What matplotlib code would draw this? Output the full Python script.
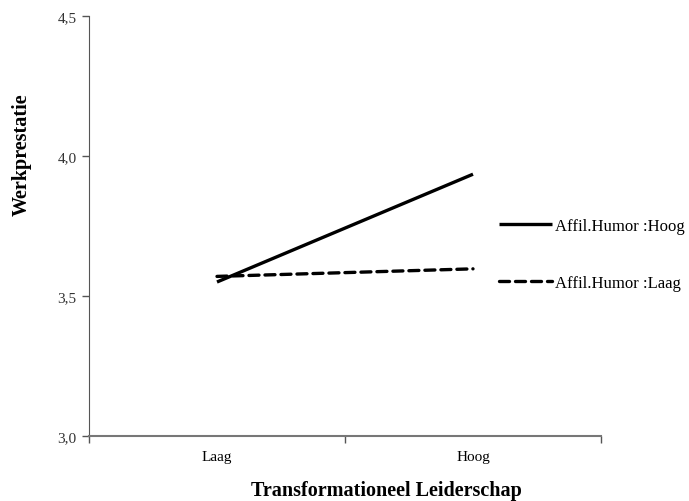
import matplotlib
matplotlib.use("Agg")
import matplotlib.pyplot as plt

# interaction plot: transformational leadership x affiliative humor
categories = ["Laag", "Hoog"]
hoog_humor = [3.55, 3.935]   # Affil.Humor :Hoog
laag_humor = [3.57, 3.597]   # Affil.Humor :Laag
yticks = [3.0, 3.5, 4.0, 4.5]
ytick_labels = ["3,0", "3,5", "4,0", "4,5"]

plt.rcParams['font.family'] = ['Liberation Serif', 'DejaVu Serif']

fig = plt.figure(figsize=(6.89, 5.02), dpi=100)
ax = fig.add_axes([89/689, 65/502, 512/689, 420/502])

x = list(range(len(categories)))
ax.plot(x, hoog_humor, color='black', lw=2.4, solid_capstyle='butt',
        label="Affil.Humor :Hoog")
ax.plot(x, laag_humor, color='black', lw=2.4, ls=(0, (3.0, 1.8)),
        dash_capstyle='round', label="Affil.Humor :Laag")

ax.set_xlim(-0.5, 1.5)
ax.set_ylim(3.0, 4.5)

# category boundaries get the ticks, labels sit between them
ax.set_xticks([-0.5, 0.5, 1.5])
ax.set_xticklabels([])
ax.set_xticks(x, minor=True)
ax.set_xticklabels(categories, minor=True, fontsize=11)
ax.tick_params(axis='x', which='minor', length=0, pad=10)
ax.tick_params(axis='x', which='major', length=5, color='#555555', width=1)

ax.set_yticks(yticks)
ax.set_yticklabels(ytick_labels, fontsize=11, color='#333333')
ax.tick_params(axis='y', length=5, color='#555555', width=1, pad=4)

for side in ['top', 'right']:
    ax.spines[side].set_visible(False)
ax.spines['left'].set_color('#555555')
ax.spines['bottom'].set_color('#777777')
ax.spines['bottom'].set_linewidth(1.5)

fig.text(386/689, 1 - 491/502, "Transformationeel Leiderschap", ha='center',
         va='center', fontsize=14.5, fontweight='bold')
fig.text(22/689, 1 - 155/502, "Werkprestatie", ha='center', va='center',
         rotation=90, fontsize=14.5, fontweight='bold')

fig.legend(loc='upper left', bbox_to_anchor=(499/689, 1 - 219/502),
           frameon=False, fontsize=12, handlelength=3.2, handletextpad=0.15,
           labelspacing=2.45, borderpad=0, borderaxespad=0)

fig.savefig("out.png", dpi=100)
